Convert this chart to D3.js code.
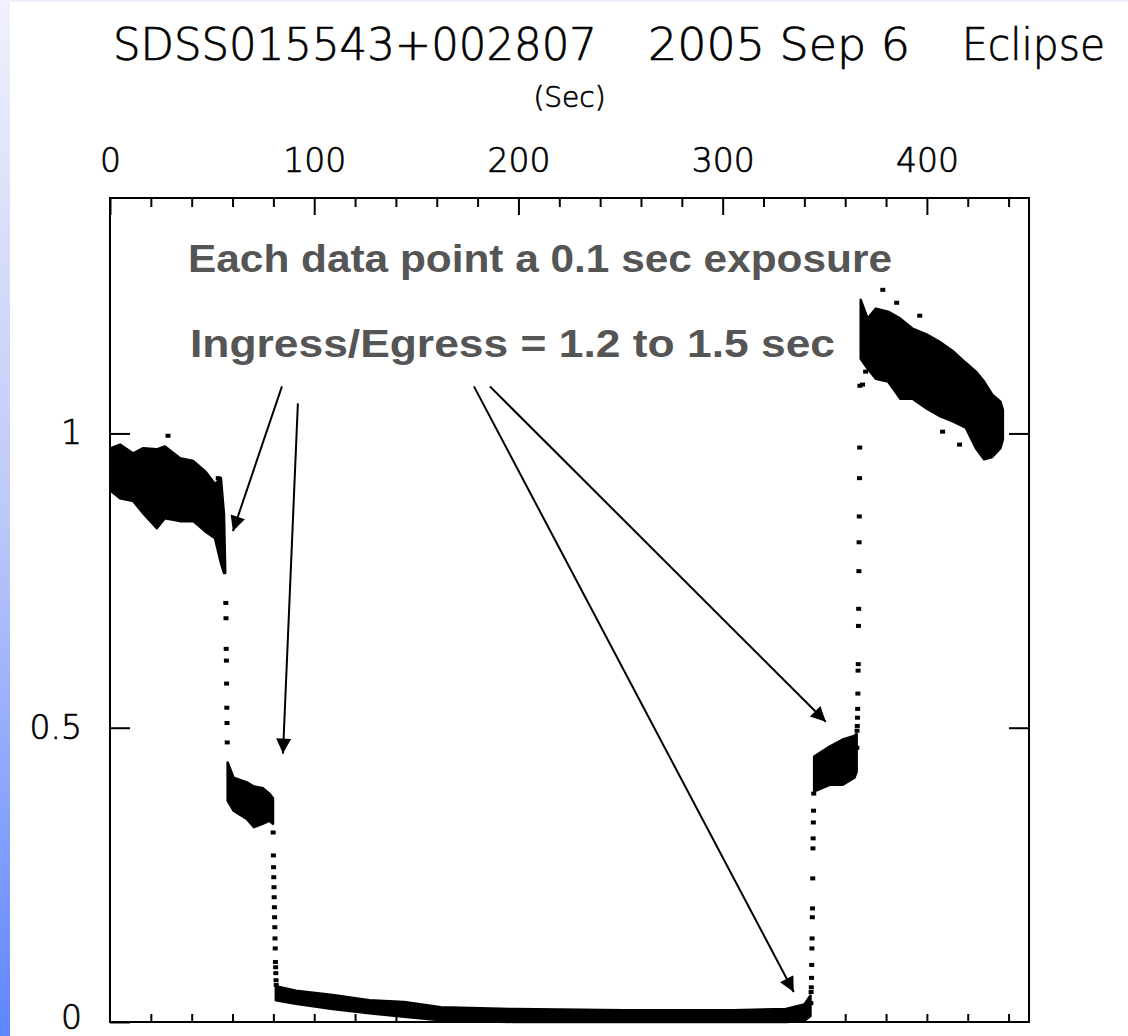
<!DOCTYPE html>
<html>
<head>
<meta charset="utf-8">
<script src="https://cdn.jsdelivr.net/npm/d3@7"></script>
<style>
  html, body { margin: 0; padding: 0; background: #fff; }
  svg { display: block; }
</style>
</head>
<body>
<div id="chart"></div>
<script>
// light curve: time in sec, relative flux
// dense parts are kept as [t, low, high] envelopes, the fast parts as single points
var preBand = [
  [0.5, 0.902, 0.975], [4.9, 0.890, 0.981], [11.4, 0.885, 0.966], [16.3, 0.864, 0.975],
  [22.9, 0.839, 0.973], [26.9, 0.856, 0.978], [34.3, 0.851, 0.958], [40.8, 0.851, 0.953],
  [46.5, 0.834, 0.936], [51.4, 0.822, 0.914], [54.3, 0.780, 0.924], [55.8, 0.763, 0.863],
  [56.4, 0.763, 0.771]
];
var ingress1 = [
  [56.7, 0.712], [56.8, 0.686], [56.9, 0.634], [57.0, 0.614], [57.1, 0.575], [57.2, 0.534],
  [57.3, 0.508], [57.4, 0.475]
];
var plateau1 = [
  [57.6, 0.376, 0.441], [60.5, 0.359, 0.415], [67.0, 0.345, 0.407], [70.5, 0.331, 0.400],
  [75.0, 0.337, 0.397], [78.0, 0.342, 0.388], [79.8, 0.337, 0.380]
];
var ingress2 = [
  [79.9, 0.322], [80.0, 0.283], [80.1, 0.263], [80.2, 0.246], [80.3, 0.229], [80.4, 0.212],
  [80.5, 0.195], [80.6, 0.178], [80.7, 0.161], [80.8, 0.142], [80.9, 0.125], [81.0, 0.102],
  [81.1, 0.093], [81.2, 0.083], [81.3, 0.071], [81.4, 0.063]
];
var totality = [
  [81.2, 0.037, 0.061], [91, 0.031, 0.053], [109, 0.022, 0.046], [127, 0.015, 0.037],
  [144, 0.009, 0.034], [162, 0.003, 0.025], [198, 0.000, 0.022], [252, 0.000, 0.020],
  [305, 0.000, 0.020], [331, 0.000, 0.022], [340, 0.002, 0.030], [343, 0.010, 0.045]
];
var egress1 = [
  [343.2, 0.032], [343.3, 0.051], [343.4, 0.059], [343.5, 0.075], [343.6, 0.097], [343.7, 0.125],
  [343.8, 0.142], [343.9, 0.178], [344.0, 0.193], [344.1, 0.244], [344.2, 0.295], [344.3, 0.312],
  [344.4, 0.339], [344.5, 0.359], [344.6, 0.388]
];
var plateau2 = [
  [344.8, 0.392, 0.451], [352.4, 0.403, 0.468], [358.8, 0.403, 0.480], [364.5, 0.415, 0.486],
  [365.6, 0.425, 0.490]
];
var egress2 = [
  [365.7, 0.466], [365.8, 0.495], [365.9, 0.503], [366.0, 0.517], [366.1, 0.532], [366.2, 0.558],
  [366.3, 0.597], [366.4, 0.608], [366.5, 0.673], [366.6, 0.702], [366.7, 0.766], [366.8, 0.815],
  [366.9, 0.859], [367.0, 0.924], [367.1, 0.976], [367.2, 1.081]
];
var postBand = [
  [367.6, 1.127, 1.227], [371, 1.110, 1.195], [375, 1.093, 1.212], [381, 1.088, 1.207],
  [387, 1.059, 1.195], [393, 1.059, 1.178], [400, 1.042, 1.168], [406, 1.030, 1.156],
  [413, 1.020, 1.139], [419, 1.010, 1.120], [424, 0.975, 1.105], [428, 0.956, 1.088],
  [432, 0.960, 1.066], [436, 0.975, 1.054], [437.2, 0.990, 1.040]
];
var strays = [
  [28.4, 0.996], [53.0, 0.924], [378.4, 1.244], [385.2, 1.222], [396.5, 1.200],
  [407.7, 1.003], [416, 0.981], [368.5, 1.083], [370, 1.105]
];

// axis ticks
var topMajor = [0, 100, 200, 300, 400];
var minorTicks = d3.range(20, 450, 20);
var yTicks = [0, 0.5, 1];

// annotation arrows, tail -> head, in data units
var arrows = [
  { from: [84.2, 1.080], to: [60.2, 0.834] },
  { from: [92.0, 1.051], to: [84.7, 0.456] },
  { from: [178.2, 1.080], to: [334.8, 0.051] },
  { from: [186.0, 1.080], to: [350.5, 0.510] }
];

var W = 1128, H = 1036;
// note: plain "top" is window.top in a browser, so keep these prefixed
var plotL = 110, plotR = 1029, plotT = 198, plotB = 1022;

var x = d3.scaleLinear().domain([0, 450]).range([plotL, plotR]);
var y = d3.scaleLinear().domain([0, 1.4]).range([plotB, plotT]);

var svg = d3.select('#chart').append('svg').attr('width', W).attr('height', H);
var defs = svg.append('defs');

var grad = defs.append('linearGradient').attr('id', 'strip').attr('x1', 0).attr('y1', 0).attr('x2', 0).attr('y2', 1);
grad.append('stop').attr('offset', '0%').attr('stop-color', '#f0f1fc');
grad.append('stop').attr('offset', '50%').attr('stop-color', '#bcc8f8');
grad.append('stop').attr('offset', '100%').attr('stop-color', '#5f86ff');

defs.append('marker')
  .attr('id', 'head')
  .attr('viewBox', '0 0 10 10')
  .attr('refX', 10).attr('refY', 5)
  .attr('markerWidth', 17).attr('markerHeight', 15)
  .attr('markerUnits', 'userSpaceOnUse')
  .attr('orient', 'auto')
  .append('path').attr('d', 'M0,0L10,5L0,10z').attr('fill', '#000');

// slide decoration
svg.append('rect').attr('x', 0).attr('y', 0).attr('width', W).attr('height', 2).attr('fill', '#eef0fb');
svg.append('rect').attr('x', 0).attr('y', 0).attr('width', 10).attr('height', H).attr('fill', 'url(#strip)');

var hershey = "'DejaVu Sans', sans-serif";

// thin font + hairline stroke, closer to the plotter lettering
var plotterText = function(sel, size) {
  return sel.attr('font-family', hershey).attr('font-size', size).attr('font-weight', 200)
    .attr('fill', '#000').attr('stroke', '#000').attr('stroke-width', 0.7);
};

// title, in three pieces like the plot label
var title = svg.append('g').call(plotterText, 44);
[['SDSS015543+002807', 113, 484], ['2005 Sep 6', 648, 262], ['Eclipse', 962, 143]].forEach(function(p) {
  title.append('text').attr('x', p[1]).attr('y', 60)
    .attr('textLength', p[2]).attr('lengthAdjust', 'spacingAndGlyphs').text(p[0]);
});

svg.append('text')
  .attr('x', (plotL + plotR) / 2).attr('y', 107)
  .attr('text-anchor', 'middle')
  .call(plotterText, 28)
  .text('(Sec)');

// data
var band = d3.area()
  .x(function(d) { return x(d[0]); })
  .y0(function(d) { return y(d[1]); })
  .y1(function(d) { return y(d[2]); });

var plot = svg.append('g').attr('class', 'data');
[preBand, plateau1, totality, plateau2, postBand].forEach(function(b) {
  plot.append('path').datum(b).attr('d', band)
    .attr('fill', '#000').attr('stroke', '#000').attr('stroke-width', 2.5).attr('stroke-linejoin', 'round');
});

var pts = ingress1.concat(ingress2, egress1, egress2, strays);
plot.selectAll('rect.pt').data(pts).enter()
  .append('rect').classed('pt', true)
  .attr('x', function(d) { return x(d[0]) - 2.5; })
  .attr('y', function(d) { return y(d[1]) - 2; })
  .attr('width', 5).attr('height', 4)
  .attr('fill', '#000');

// frame and ticks
svg.append('rect')
  .attr('x', plotL).attr('y', plotT).attr('width', plotR - plotL).attr('height', plotB - plotT)
  .attr('fill', 'none').attr('stroke', '#000').attr('stroke-width', 2);

var styleAxis = function(g) {
  g.select('.domain').remove();
  g.selectAll('.tick line').attr('stroke', '#000').attr('stroke-width', 2);
  g.selectAll('.tick text').call(plotterText, 33);
};

svg.append('g').attr('transform', 'translate(0,' + plotT + ')')
  .call(d3.axisTop(x).tickValues(minorTicks.filter(function(v) { return v % 100; })).tickSize(-9).tickFormat(''))
  .call(styleAxis);
svg.append('g').attr('transform', 'translate(0,' + plotT + ')')
  .call(d3.axisTop(x).tickValues(topMajor).tickSize(-17).tickPadding(26).tickFormat(d3.format('d')))
  .call(styleAxis);
svg.append('g').attr('transform', 'translate(0,' + plotB + ')')
  .call(d3.axisBottom(x).tickValues(minorTicks).tickSize(-8).tickFormat(''))
  .call(styleAxis);
var yAxis = svg.append('g').attr('transform', 'translate(' + plotL + ',0)')
  .call(d3.axisLeft(y).tickValues(yTicks).tickSize(-20).tickPadding(28).tickFormat(function(d) { return String(d); }))
  .call(styleAxis);
// the "0" sits right on the bottom edge; nudge it up a little so it is not clipped
yAxis.selectAll('.tick text').filter(function(d) { return d === 0; }).attr('dy', '0.2em');
svg.append('g').attr('transform', 'translate(' + plotR + ',0)')
  .call(d3.axisRight(y).tickValues([0.5, 1]).tickSize(-20).tickFormat(''))
  .call(styleAxis);

// annotation
var note = svg.append('g').attr('font-family', "'Liberation Sans', Arial, sans-serif")
  .attr('font-weight', 'bold').attr('font-size', 38).attr('fill', '#555');
note.append('text').attr('x', 188).attr('y', 272)
  .attr('textLength', 704).attr('lengthAdjust', 'spacingAndGlyphs')
  .text('Each data point a 0.1 sec exposure');
note.append('text').attr('x', 190).attr('y', 357)
  .attr('textLength', 645).attr('lengthAdjust', 'spacingAndGlyphs')
  .text('Ingress/Egress = 1.2 to 1.5 sec');

svg.append('g').selectAll('line.arrow').data(arrows).enter()
  .append('line').classed('arrow', true)
  .attr('x1', function(d) { return x(d.from[0]); })
  .attr('y1', function(d) { return y(d.from[1]); })
  .attr('x2', function(d) { return x(d.to[0]); })
  .attr('y2', function(d) { return y(d.to[1]); })
  .attr('stroke', '#000').attr('stroke-width', 2)
  .attr('marker-end', 'url(#head)');
</script>
</body>
</html>
